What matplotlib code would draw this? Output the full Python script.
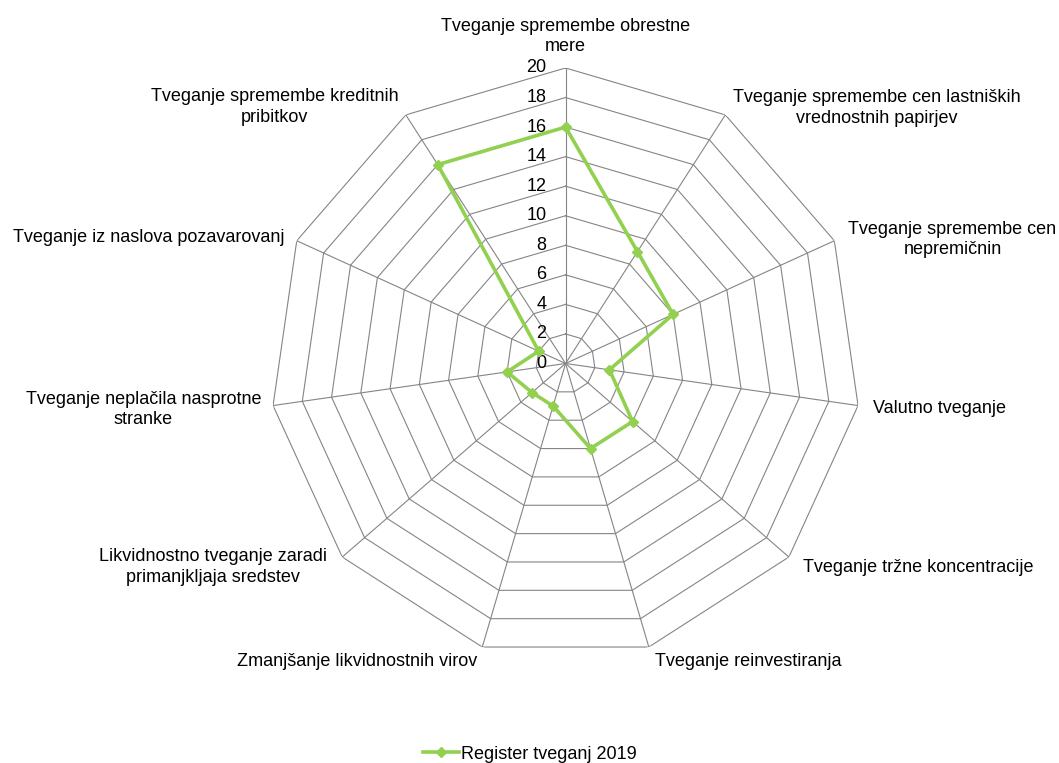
import numpy as np
import matplotlib.pyplot as plt

plt.rcParams['font.family'] = ['Liberation Sans', 'DejaVu Sans']

# Data
categories = [
    'Tveganje spremembe obrestne\nmere',
    'Tveganje spremembe cen lastniških\nvrednostnih papirjev',
    'Tveganje spremembe cen\nnepremičnin',
    'Valutno tveganje',
    'Tveganje tržne koncentracije',
    'Tveganje reinvestiranja',
    'Zmanjšanje likvidnostnih virov',
    'Likvidnostno tveganje zaradi\nprimanjkljaja sredstev',
    'Tveganje neplačila nasprotne\nstranke',
    'Tveganje iz naslova pozavarovanj',
    'Tveganje spremembe kreditnih\npribitkov',
]
values = [16, 9, 8, 3, 6, 6, 3, 3, 4, 2, 16]
series_name = 'Register tveganj 2019'
rings = [0, 2, 4, 6, 8, 10, 12, 14, 16, 18, 20]

n = len(categories)
angles = np.arange(n) * 2 * np.pi / n

fig = plt.figure(figsize=(10.59, 7.63), dpi=100)
ax = fig.add_axes([0.2550, 0.1363, 0.5581, 0.7746], projection='polar')
ax.set_theta_zero_location('N')
ax.set_theta_direction(-1)
ax.set_ylim(0, 20)
ax.grid(False)
ax.spines['polar'].set_visible(False)
ax.set_xticks([])
ax.set_yticks([])

grid_col = '#858585'
closed = np.append(angles, angles[0])
# polygon rings
for r in rings[1:]:
    ax.plot(closed, [r] * (n + 1), color=grid_col, lw=0.8, zorder=1)
# spokes
for a in angles:
    ax.plot([a, a], [0, 20], color=grid_col, lw=0.8, zorder=1)

# radial tick labels
for r in rings:
    ax.annotate(str(r), xy=(0, r), xytext=(-19, 0), textcoords='offset pixels',
                ha='right', va='center', fontsize=13, color='#000000')

# category labels: (dx, dy, ha, va) in pixels
label_pos = [
    (0, 13, 'center', 'bottom'),
    (8, 7, 'left', 'center'),
    (14, 1, 'left', 'center'),
    (15, -3, 'left', 'center'),
    (14, -10, 'left', 'center'),
    (6, -14, 'left', 'center'),
    (-5, -14, 'right', 'center'),
    (-15, -10, 'right', 'center'),
    (-12, -4, 'right', 'center'),
    (-12, 3, 'right', 'center'),
    (-7, 8, 'right', 'center'),
]
for a, lab, (dx, dy, ha, va) in zip(angles, categories, label_pos):
    ax.annotate(lab, xy=(a, 20), xytext=(dx, dy), textcoords='offset pixels',
                ha=ha, va=va, multialignment='center', fontsize=13,
                linespacing=1.25, annotation_clip=False)

green = '#92D050'
ax.plot(np.append(angles, angles[0]), values + values[:1], color=green,
        lw=2.6, marker='D', markersize=5.5, zorder=3, label=series_name)

fig.legend(loc='lower center', bbox_to_anchor=(0.5, -0.021), frameon=False,
           fontsize=13, handlelength=2.0, handletextpad=0.1)

fig.savefig('out.png', dpi=100)
